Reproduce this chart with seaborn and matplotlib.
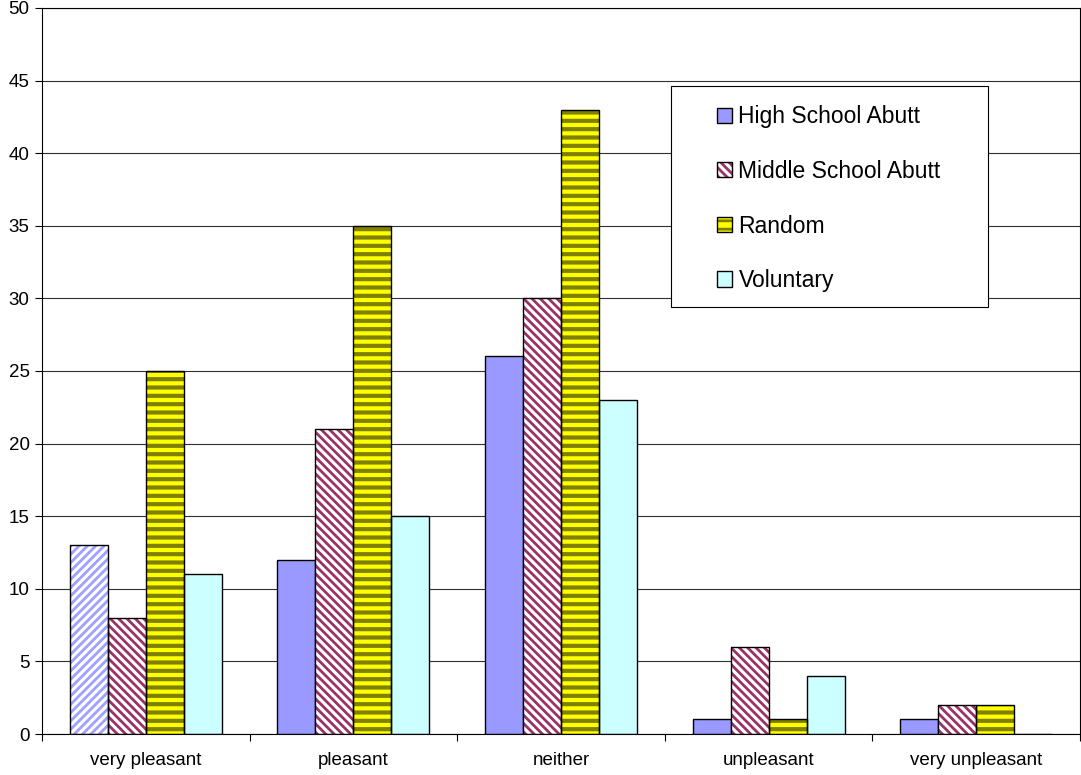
import pandas as pd
import matplotlib
matplotlib.use("Agg")
import matplotlib.pyplot as plt
from matplotlib.patches import Patch, Rectangle
import seaborn as sns

# ---------------- data ----------------
categories = ["very pleasant", "pleasant", "neither", "unpleasant", "very unpleasant"]
series = ["High School Abutt", "Middle School Abutt", "Random", "Voluntary"]
high_school = [13, 12, 26, 1, 1]
middle_school = [8, 21, 30, 6, 2]
random_sel = [25, 35, 43, 1, 2]
voluntary = [11, 15, 23, 4, 0]
y_ticks = list(range(0, 55, 5))

rows = []
for name, vals in zip(series, [high_school, middle_school, random_sel, voluntary]):
    for cat, v in zip(categories, vals):
        rows.append({"category": cat, "series": name, "value": v})
df = pd.DataFrame(rows)

# ---------------- style ----------------
sns.set_theme(style="white")
plt.rcParams["font.family"] = ["Liberation Sans", "DejaVu Sans"]
plt.rcParams["hatch.linewidth"] = 2.0

colors = {"High School Abutt": "#9999FF", "Middle School Abutt": "#FFFFFF",
          "Random": "#FFFF00", "Voluntary": "#CCFFFF"}

fig = plt.figure(figsize=(10.81, 7.75), dpi=100)
ax = fig.add_axes([0.0389, 0.0529, 0.9601, 0.9368])

sns.barplot(data=df, x="category", y="value", hue="series", order=categories,
            hue_order=series, palette=colors, saturation=1, width=0.732,
            edgecolor="black", linewidth=1.0, legend=False, ax=ax)


def hatch_lw(p, lw):
    if hasattr(p, "set_hatch_linewidth"):
        p.set_hatch_linewidth(lw)


# patterns
hs, ms, rnd, vol = ax.containers
first = hs[0]
first.set_facecolor("white")
first.set_edgecolor("#A0A0FF")
first.set_hatch("////")
first.set_linewidth(0)

for p in ms:
    p.set_facecolor("white")
    p.set_edgecolor("#993366")
    p.set_hatch("\\\\\\\\")
    p.set_linewidth(0)

for p in rnd:
    p.set_edgecolor("#808000")
    p.set_hatch("--")
    p.set_linewidth(0)
    hatch_lw(p, 3.0)

# black outlines on top of the hatched bars
for p in [first] + list(ms) + list(rnd):
    if p.get_height() > 0:
        ax.add_patch(Rectangle(p.get_xy(), p.get_width(), p.get_height(), fill=False,
                               edgecolor="black", linewidth=1.0, zorder=p.get_zorder() + 0.1))

# axes
ax.set_ylim(0, 50)
ax.set_xlim(-0.5, len(categories) - 0.5)
ax.set_yticks(y_ticks)
ax.set_xlabel("")
ax.set_ylabel("")
ax.yaxis.grid(True, color="#303030", linewidth=0.8)
ax.set_axisbelow(True)
for s in ax.spines.values():
    s.set_color("black")
    s.set_linewidth(0.8)
ax.tick_params(axis="y", which="major", left=True, length=5, width=0.8, labelsize=13.5,
               colors="black", pad=4)
ax.tick_params(axis="x", which="major", length=0, labelsize=13.5, colors="black", pad=13)
ax.set_xticks([i + 0.5 for i in range(-1, len(categories))], minor=True)
ax.tick_params(axis="x", which="minor", bottom=True, length=5, width=0.8, color="black")

# legend box + entries
ax.add_patch(Rectangle((0.606, 0.588), 0.305, 0.305, transform=ax.transAxes,
                       facecolor="white", edgecolor="black", linewidth=0.8, zorder=4.5))
handles = [
    Patch(facecolor="#9999FF", edgecolor="black", linewidth=1.0),
    (Patch(facecolor="white", edgecolor="#993366", hatch="\\\\\\\\", linewidth=0),
     Patch(fill=False, edgecolor="black", linewidth=1.0)),
    (Patch(facecolor="#FFFF00", edgecolor="#808000", hatch="--", linewidth=0),
     Patch(fill=False, edgecolor="black", linewidth=1.0)),
    Patch(facecolor="#CCFFFF", edgecolor="black", linewidth=1.0),
]
leg = ax.legend(handles, series, loc="upper left", bbox_to_anchor=(0.650, 0.866),
                frameon=False, fontsize=16.5, handlelength=0.65, handleheight=0.65,
                handletextpad=0.3, labelspacing=1.38, borderpad=0, borderaxespad=0,
                labelcolor="black")
leg.set_zorder(5)

fig.savefig("out.png", dpi=100)
